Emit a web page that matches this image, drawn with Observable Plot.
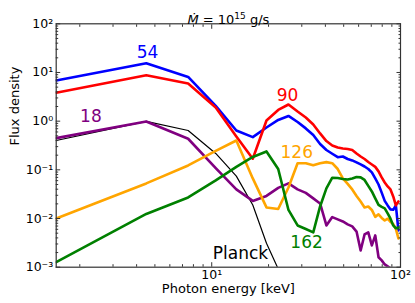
<!DOCTYPE html>
<html><head><meta charset="utf-8">
<script src="https://cdn.jsdelivr.net/npm/d3@7"></script>
<script src="https://cdn.jsdelivr.net/npm/@observablehq/plot@0.6"></script>
<style>
body{margin:0;background:#fff;}
svg{font-family:"DejaVu Sans",sans-serif;}
</style></head><body><div id="chart"></div>
<script>
// Photon energy grid [keV]
const energies = [1.5, 4.5, 7.5, 10.5, 13.5, 16.5, 19.5, 22.5, 25.5, 28.5, 31.5, 34.5, 37.5, 40.5, 43.5, 46.5, 49.5, 52.5, 55.5, 58.5, 61.5, 64.5, 67.5, 70.5, 73.5, 76.5, 79.5, 82.5, 85.5, 88.5, 91.5, 94.5, 97.5];

const planck = [0.40, 0.986, 0.644, 0.217, 0.0743, 0.019, 0.0031, 0.00092, 0.0002, 0.00004];
const flux18 = [0.448, 0.986, 0.435, 0.108, 0.0396, 0.023, 0.0291, 0.0425, 0.0526, 0.0396, 0.0336, 0.0259, 0.0204, 0.0072, 0.0107, 0.0096, 0.0087, 0.0076, 0.0069, 0.0054, 0.0022, 0.0047, 0.0052, 0.0028, 0.0045, 0.0016, 0.00138, 0.00114, 0.00104, 0.00095, 0.0008, 0.0007, 0.0006];
const flux54 = [6.85, 15.5, 8.1, 2.06, 0.644, 0.47, 0.74, 1.06, 1.28, 0.96, 0.71, 0.52, 0.34, 0.256, 0.214, 0.182, 0.188, 0.167, 0.156, 0.142, 0.129, 0.117, 0.104, 0.0885, 0.0666, 0.050, 0.034, 0.023, 0.0186, 0.0154, 0.0151, 0.0186, 0.0057];
const flux90 = [3.83, 8.8, 5.95, 1.91, 0.485, 0.169, 1.03, 1.70, 2.2, 1.58, 1.19, 0.855, 0.56, 0.39, 0.317, 0.288, 0.275, 0.268, 0.256, 0.217, 0.188, 0.167, 0.145, 0.129, 0.115, 0.093, 0.070, 0.055, 0.0456, 0.0396, 0.0284, 0.0186, 0.0224];
const flux126 = [0.0100, 0.0526, 0.123, 0.245, 0.40, 0.0667, 0.0169, 0.0157, 0.0435, 0.137, 0.137, 0.124, 0.137, 0.144, 0.137, 0.104, 0.0666, 0.0513, 0.0396, 0.0291, 0.0224, 0.0169, 0.0177, 0.015, 0.0108, 0.0122, 0.0103, 0.0091, 0.0099, 0.0085, 0.0077, 0.0061, 0.0039];
const flux162 = [0.00127, 0.0124, 0.0271, 0.0606, 0.115, 0.184, 0.239, 0.104, 0.015, 0.0072, 0.0061, 0.0052, 0.0177, 0.0415, 0.0689, 0.068, 0.065, 0.0635, 0.0667, 0.0715, 0.070, 0.062, 0.0467, 0.036, 0.0259, 0.019, 0.0173, 0.0161, 0.0127, 0.0099, 0.0072, 0.0063, 0.0065];

const seriesNames = ["Planck", "18", "54", "90", "126", "162"];
const seriesValues = [planck, flux18, flux54, flux90, flux126, flux162];
const seriesColors = ["black", "purple", "blue", "red", "orange", "green"];
const seriesWidths = [1.2, 2.6, 2.6, 2.6, 2.6, 2.6];

// curve labels
const labelText = ["54", "90", "18", "126", "162", "Planck"];
const labelEnergy = [4.57, 25.2, 2.29, 28.2, 31.8, 14.2];
const labelFlux = [26.1, 3.37, 1.27, 0.231, 0.00318, 0.00189];
const labelColor = ["blue", "red", "purple", "orange", "green", "black"];

// ticks
const xMajor = [10, 100];
const xTickLabels = ["10¹", "10²"];
const xMinor = [2, 3, 4, 5, 6, 7, 8, 9, 20, 30, 40, 50, 60, 70, 80, 90];
const yMajor = [1e-3, 1e-2, 1e-1, 1, 10, 100];
const yTickLabels = ["10⁻³", "10⁻²", "10⁻¹", "10⁰", "10¹", "10²"];
const yMinor = [1e-3, 1e-2, 1e-1, 1, 10].flatMap(d => [2, 3, 4, 5, 6, 7, 8, 9].map(m => m * d));

const titleParts = ["Ṁ", " = 10", "15", " g/s"];
const xLabel = "Photon energy [keV]";
const yLabel = "Flux density";

const rows = seriesNames.flatMap((name, s) =>
  seriesValues[s].map((v, i) => ({series: name, e: energies[i], v})));
const labels = labelText.map((t, i) => ({t, e: labelEnergy[i], v: labelFlux[i], c: labelColor[i]}));

const tickColor = "#333";
const chart = Plot.plot({
  width: 415, height: 303,
  marginLeft: 55.7, marginRight: 15, marginTop: 23.3, marginBottom: 36.3,
  style: {fontFamily: "DejaVu Sans, sans-serif", fontSize: "12.5px", background: "white", color: "black"},
  x: {type: "log", domain: [1.5, 100], axis: null},
  y: {type: "log", domain: [1e-3, 1e2], axis: null},
  marks: [
    ...seriesNames.map((name, s) => Plot.line(rows.filter(r => r.series === name), {
      x: "e", y: "v", stroke: seriesColors[s], strokeWidth: seriesWidths[s], clip: true
    })),
    Plot.text(labels, {x: "e", y: "v", text: "t", fill: "c", fontSize: 17}),
    Plot.frame({stroke: tickColor, strokeWidth: 1.2}),
    Plot.axisX(xMajor, {anchor: "bottom", tickSize: -4.5, stroke: tickColor, fill: "none", label: null}),
    Plot.axisX(xMinor, {anchor: "bottom", tickSize: -2.5, stroke: tickColor, fill: "none", label: null}),
    Plot.axisX(xMajor, {anchor: "top", tickSize: -4.5, stroke: tickColor, fill: "none", label: null}),
    Plot.axisX(xMinor, {anchor: "top", tickSize: -2.5, stroke: tickColor, fill: "none", label: null}),
    Plot.axisY(yMajor, {anchor: "left", tickSize: -4.5, stroke: tickColor, fill: "none", label: null}),
    Plot.axisY(yMinor, {anchor: "left", tickSize: -2.5, stroke: tickColor, fill: "none", label: null}),
    Plot.axisY(yMajor, {anchor: "right", tickSize: -4.5, stroke: tickColor, fill: "none", label: null}),
    Plot.axisY(yMinor, {anchor: "right", tickSize: -2.5, stroke: tickColor, fill: "none", label: null}),
    Plot.axisX(xMajor, {anchor: "bottom", tickSize: 0, tickPadding: 3, fontSize: 12.5,
      tickFormat: d => xTickLabels[xMajor.indexOf(d)], label: null}),
    Plot.axisY(yMajor, {anchor: "left", tickSize: 0, tickPadding: 3, fontSize: 12.5,
      tickFormat: d => yTickLabels[yMajor.indexOf(d)], label: null}),
    Plot.text([xLabel], {frameAnchor: "bottom", dy: 26, fontSize: 13}),
    Plot.text([yLabel], {frameAnchor: "left", dx: -41, rotate: -90, fontSize: 13}),
    Plot.text([titleParts.join("")], {frameAnchor: "top", dy: -9, fontSize: 13})
  ]
});

// rebuild the title with an italic Ṁ and a superscript exponent
const full = titleParts.join("");
d3.select(chart).selectAll("text").filter(function() { return this.textContent === full; })
  .each(function() {
    const t = d3.select(this);
    t.text("");
    t.append("tspan").attr("font-style", "italic").text(titleParts[0]);
    t.append("tspan").text(titleParts[1]);
    t.append("tspan").attr("font-size", "9px").attr("dy", "-5").text(titleParts[2]);
    t.append("tspan").attr("dy", "5").text(titleParts[3]);
  });

document.getElementById("chart").appendChild(chart);
</script></body></html>
